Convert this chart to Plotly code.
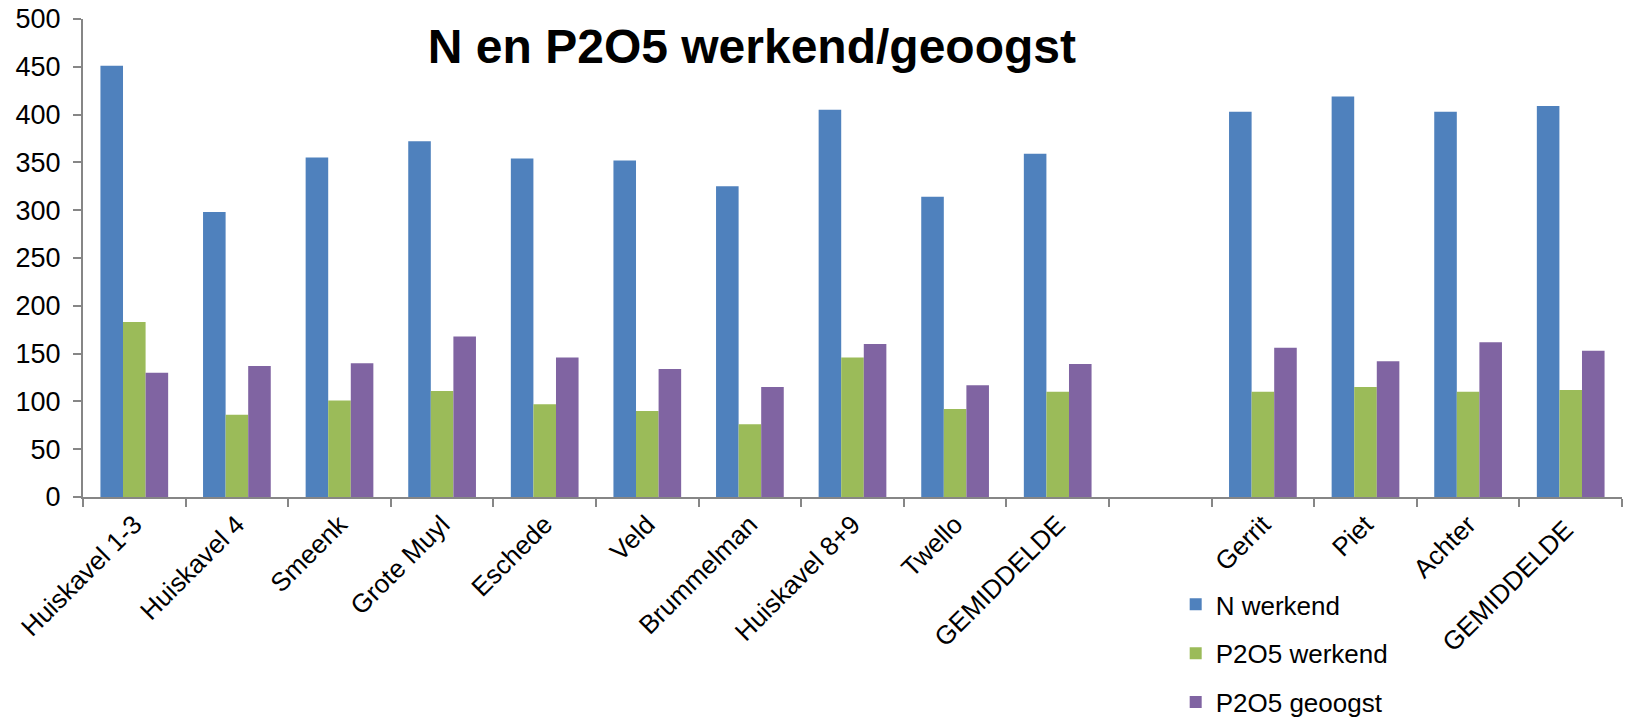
import plotly.graph_objects as go

# percelen (lege categorie als scheiding tussen de twee groepen)
categories = ["Huiskavel 1-3", "Huiskavel 4", "Smeenk", "Grote Muyl", "Eschede",
              "Veld", "Brummelman", "Huiskavel 8+9", "Twello", "GEMIDDELDE",
              " ", "Gerrit", "Piet", "Achter", "GEMIDDELDE "]

n_werkend = [451, 298, 355, 372, 354, 352, 325, 405, 314, 359,
             None, 403, 419, 403, 409]
p2o5_werkend = [183, 86, 101, 111, 97, 90, 76, 146, 92, 110,
                None, 110, 115, 110, 112]
p2o5_geoogst = [130, 137, 140, 168, 146, 134, 115, 160, 117, 139,
                None, 156, 142, 162, 153]

FONT = "Liberation Sans, Arial, sans-serif"
AXIS_GREY = "#868686"

fig = go.Figure()
fig.add_trace(go.Bar(x=categories, y=n_werkend, name="N werkend", legendgroup="a",
                     marker=dict(color="#4F81BD", line=dict(width=0))))
fig.add_trace(go.Bar(x=categories, y=p2o5_werkend, name="P2O5 werkend", legendgroup="b",
                     marker=dict(color="#9BBB59", line=dict(width=0))))
fig.add_trace(go.Bar(x=categories, y=p2o5_geoogst, name="P2O5 geoogst", legendgroup="c",
                     marker=dict(color="#8064A2", line=dict(width=0))))

# page body has an 8px margin, so the figure is a bit smaller than the window
fig.update_layout(
    width=1625, height=710,
    margin=dict(l=75, r=11, t=11, b=221, autoexpand=False),
    paper_bgcolor="white", plot_bgcolor="white",
    font=dict(family=FONT, size=26, color="black"),
    barmode="group", bargap=0.34, bargroupgap=0,
    title=dict(text="<b>N en P2O5 werkend/geoogst</b>",
               font=dict(family=FONT, size=48, color="black"),
               x=0.4578, xanchor="center", xref="container",
               y=0.9465, yanchor="middle", yref="container"),
    legend=dict(x=0.71, xanchor="left", y=0.193, yanchor="top", yref="container",
                font=dict(size=26), tracegroupgap=12,
                itemwidth=30, bgcolor="rgba(0,0,0,0)"),
    showlegend=True,
)

fig.update_xaxes(
    type="category", tickson="boundaries", tickangle=-45,
    showline=True, linecolor=AXIS_GREY, linewidth=2,
    ticks="outside", ticklen=8, tickcolor=AXIS_GREY, tickwidth=2,
    showgrid=False, zeroline=False,
    tickfont=dict(size=26, color="black"),
)
fig.update_yaxes(
    range=[0, 500], dtick=50,
    showline=True, linecolor=AXIS_GREY, linewidth=2,
    ticks="outside", ticklen=8, tickcolor=AXIS_GREY, tickwidth=2,
    ticklabelstandoff=7, ticklabeloverflow="allow",
    showgrid=False, zeroline=False,
    tickfont=dict(size=27, color="black"),
)

fig.write_html("out.html")
